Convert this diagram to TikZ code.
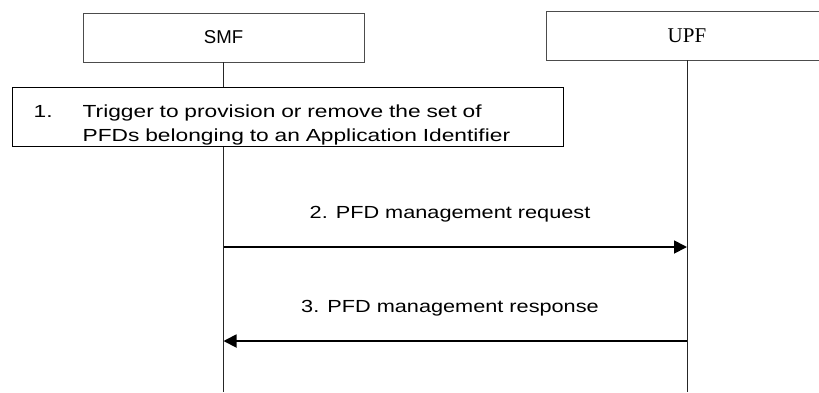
\documentclass[tikz,border=0pt]{standalone}
\usepackage{fontspec}
\setmainfont{Liberation Sans}
\newfontfamily\serifnf{Liberation Serif}
\newfontfamily\widesf[FakeStretch=1.3]{Liberation Sans}
\newfontfamily\labelsf[FakeStretch=1.24]{Liberation Sans}
\usetikzlibrary{arrows.meta}

\begin{document}
\begin{tikzpicture}[x=1pt,y=-1pt,
        entity/.style={draw=black!70,line width=0.8pt,minimum width=281pt,minimum height=49pt,inner sep=0pt},
        lifeline/.style={draw=black!85,line width=0.8pt},
        stepbox/.style={draw,line width=1.3pt,anchor=north west,inner ysep=0pt,
            inner xsep=21pt,text width=509pt,align=left,font=\widesf\fontsize{17.5}{24}\selectfont},
        msg/.style={line width=1.8pt,-{Triangle[length=13pt,width=13pt]}},
        msglabel/.style={font=\labelsf\fontsize{17.5}{24}\selectfont,anchor=base}]
            \clip (0,0) rectangle (819,392);
            % entities
            \node[entity,font=\fontsize{18.6}{22}\selectfont] (smf) at (223.5,37.5) {SMF};
            \node[entity,font=\serifnf\fontsize{21}{24}\selectfont] (upf) at (687,35.5) {UPF};
            \coordinate (smfend) at (223.5,392);
            \coordinate (upfend) at (687,392);
            \draw[lifeline] (smf.south) -- (smfend);
            \draw[lifeline] (upf.south) -- (upfend);
            % step 1
            \node[stepbox,fill=white] (trigger) at (12,87)
                {\rule{0pt}{30pt}\makebox[49pt][l]{1.}Trigger to provision or remove the set of\\
                 \hspace*{49pt}PFDs belonging to an Application Identifier\rule[-5pt]{0pt}{5pt}};
            % messages
            \coordinate (req0) at (223.5,247);
            \coordinate (req1) at (687,247);
            \coordinate (rsp0) at (687,341);
            \coordinate (rsp1) at (223.5,341);
            \draw[msg] (req0) -- (req1);
            \draw[msg] (rsp0) -- (rsp1);
            \node[msglabel] (reqtext) at (450,218) {2. PFD management request};
            \node[msglabel] (rsptext) at (450,312) {3. PFD management response};
        \end{tikzpicture}
\end{document}
